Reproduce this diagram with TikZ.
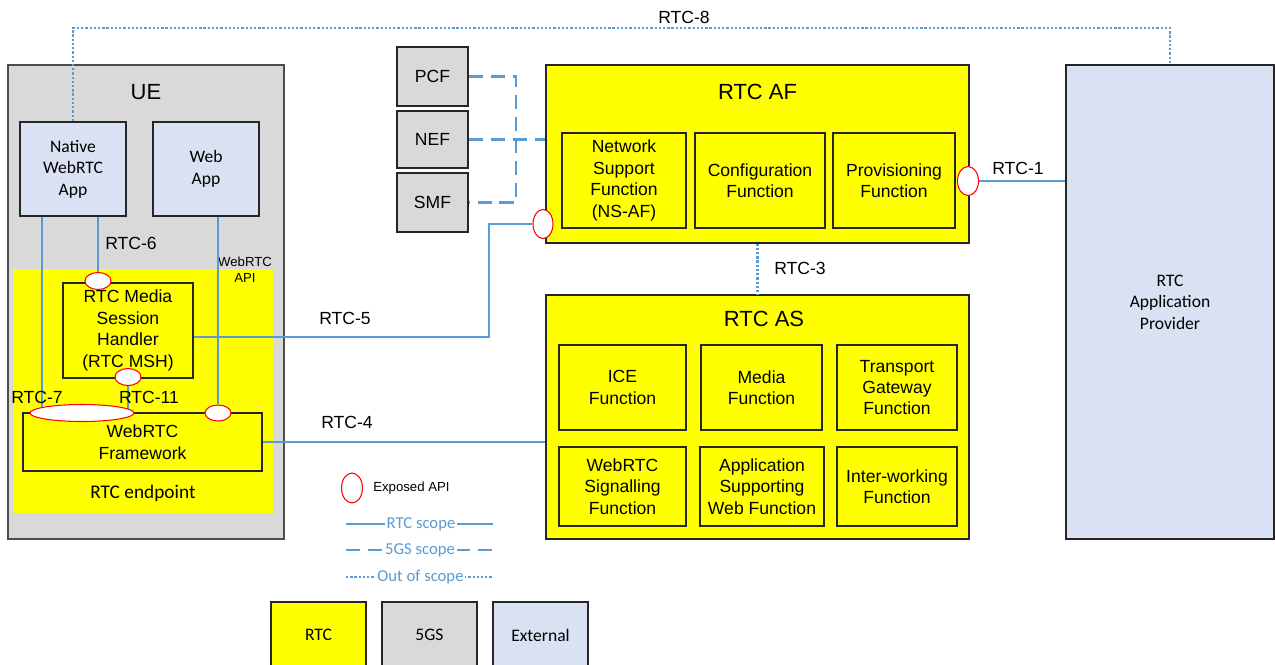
\documentclass[tikz,border=0pt]{standalone}
\usepackage{fontspec}
\setmainfont{Liberation Sans}
\newfontfamily\calibri{Carlito}
\usetikzlibrary{shapes.geometric}
\pgfdeclarelayer{front}
\pgfsetlayers{main,front}
\definecolor{rtcyellow}{RGB}{255,255,0}
\definecolor{fivegray}{RGB}{217,217,217}
\definecolor{extblue}{RGB}{218,225,242}
\definecolor{scopeblue}{RGB}{91,155,213}

\begin{document}
\begin{tikzpicture}[
		x=0.02cm, y=-0.02cm,
		box/.style={rectangle, draw=black!85, line width=0.9pt, inner sep=0pt, align=center},
		rtcbox/.style={box, fill=rtcyellow},
		gsbox/.style={box, fill=fivegray, font=\fontsize{10}{12}\selectfont},
		extbox/.style={box, line width=1.1pt, fill=extblue, font=\calibri\fontsize{10}{12.2}\selectfont},
		func/.style={box, line width=0.7pt, fill=rtcyellow, font=\fontsize{10}{12.2}\selectfont},
		title/.style={font=\fontsize{12.5}{14}\selectfont, inner sep=0pt},
		lbl/.style={font=\fontsize{10}{12}\selectfont, inner sep=0pt},
		legend/.style={font=\calibri\fontsize{9.5}{11}\selectfont, text=scopeblue, fill=white, inner sep=1pt},
		api/.style={ellipse, draw=red, fill=white, line width=0.6pt, inner sep=0pt},
		rtcline/.style={draw=scopeblue, line width=1.2pt},
		gsline/.style={rtcline, dash pattern=on 8pt off 4.5pt},
		outscope/.style={rtcline, dash pattern=on 1.3pt off 1.1pt}
	]
  \useasboundingbox (0,0) rectangle (1275,664);

  \node (ue) [gsbox, draw=black!70, minimum width=5.52cm, minimum height=9.48cm] at (146, 302) {};
  \node (ue_label) [title] at (146, 92) {UE};
  \node (endpoint) [rectangle, fill=rtcyellow, minimum width=5.2cm, minimum height=4.88cm] at (143, 391) {};
  \node (endpoint_label) [font=\calibri\fontsize{11}{13}\selectfont] at (143, 493) {RTC endpoint};
  \node (native) [extbox, minimum width=2.12cm, minimum height=1.88cm] at (73, 169) {Native\\WebRTC\\App};
  \node (webapp) [extbox, minimum width=2.12cm, minimum height=1.88cm] at (206, 169) {Web\\App};
  \node (api_label) [font=\fontsize{7.5}{9}\selectfont, align=center, inner sep=0pt] at (245, 270) {WebRTC\\API};
  \node (msh) [func, minimum width=2.6cm, minimum height=1.9cm] at (128, 330.5) {RTC Media\\Session\\Handler\\(RTC MSH)};
  \node (framework) [func, minimum width=4.78cm, minimum height=1.16cm] at (142.5, 442) {WebRTC\\Framework};

  \node (pcf) [gsbox, minimum width=1.42cm, minimum height=1.18cm] at (432.5, 76.5) {PCF};
  \node (nef) [gsbox, minimum width=1.42cm, minimum height=1.14cm] at (432.5, 139.5) {NEF};
  \node (smf) [gsbox, minimum width=1.42cm, minimum height=1.18cm] at (432.5, 202.5) {SMF};

  \node (rtc_af) [rtcbox, line width=0.7pt, minimum width=8.46cm, minimum height=3.56cm] at (757.5, 154) {};
  \node (rtc_af_label) [title] at (757.5, 92) {RTC AF};
  \node (ns_af) [func, minimum width=2.48cm, minimum height=1.9cm] at (624, 180.5) {Network\\Support\\Function\\(NS-AF)};
  \node (config) [func, minimum width=2.6cm, minimum height=1.9cm] at (760, 180.5) {Configuration\\Function};
  \node (prov) [func, minimum width=2.44cm, minimum height=1.9cm] at (894, 180.5) {Provisioning\\Function};

  \node (rtc_as) [rtcbox, line width=0.7pt, minimum width=8.46cm, minimum height=4.88cm] at (757.5, 417) {};
  \node (rtc_as_label) [title] at (764, 319) {RTC AS};
  \node (ice) [func, minimum width=2.54cm, minimum height=1.7cm] at (622.5, 387.5) {ICE\\Function};
  \node (media) [func, minimum width=2.42cm, minimum height=1.7cm] at (761.5, 387.5) {Media\\Function};
  \node (transport) [func, minimum width=2.4cm, minimum height=1.7cm] at (897, 387.5) {Transport\\Gateway\\Function};
  \node (signalling) [func, minimum width=2.54cm, minimum height=1.58cm] at (622.5, 486.5) {WebRTC\\Signalling\\Function};
  \node (appsupport) [func, minimum width=2.48cm, minimum height=1.58cm] at (762, 486.5) {Application\\Supporting\\Web Function};
  \node (interworking) [func, minimum width=2.4cm, minimum height=1.58cm] at (897, 486.5) {Inter-working\\Function};

  \node (provider) [extbox, minimum width=4.16cm, minimum height=9.48cm] at (1170, 302) {RTC\\Application\\Provider};

  \begin{pgfonlayer}{front}
  \node (msh_api) [api, minimum width=0.52cm, minimum height=0.34cm] at (98, 281) {};
  \node (msh_low_api) [api, minimum width=0.52cm, minimum height=0.34cm] at (128, 377) {};
  \node (rtc7_api) [api, minimum width=2.08cm, minimum height=0.34cm] at (82, 413) {};
  \node (web_api) [api, minimum width=0.52cm, minimum height=0.32cm] at (218, 413) {};
  \node (af_api) [api, minimum width=0.4cm, minimum height=0.58cm] at (543, 224) {};
  \node (prov_api) [api, minimum width=0.42cm, minimum height=0.58cm] at (968, 181) {};
  \node (legend_api) [api, minimum width=0.42cm, minimum height=0.6cm] at (352, 488) {};
  \end{pgfonlayer}
  \node (legend_api_label) [font=\fontsize{7.5}{9}\selectfont, anchor=west, inner sep=0pt] at (373, 488) {Exposed API};

  \coordinate (rtc7_x) at (42, 300);
  \coordinate (rtc5_turn) at (489, 337);
  \coordinate (rtc8_turn) at (684, 28);
  \coordinate (bus5g) at (516, 140);

  \draw[rtcline] (native.south -| rtc7_x) -- (rtc7_x |- rtc7_api);
  \draw[rtcline] (native.south -| msh_api) -- (msh_api);
  \draw[rtcline] (webapp.south -| web_api) -- (web_api);
  \draw[rtcline] (msh_low_api) -- (msh_low_api |- rtc7_api);
  \draw[rtcline] (msh.east |- rtc5_turn) -- (rtc5_turn) |- (af_api);
  \draw[rtcline] (framework.east) -- (framework.east -| rtc_as.west);
  \draw[rtcline] (prov_api) -- (prov_api -| provider.west);
  \draw[outscope] (rtc_af.south) -- (rtc_as.north);
  \draw[outscope] (native.north) |- (rtc8_turn) -| (provider.north);
  \draw[gsline] (pcf.east) -| (bus5g) |- (smf.east);
  \draw[gsline] (nef.east) -- (nef.east -| rtc_af.west);

  \node (rtc1_label) [lbl] at (1018, 168) {RTC-1};
  \node (rtc3_label) [lbl] at (800, 268) {RTC-3};
  \node (rtc4_label) [lbl] at (347, 422) {RTC-4};
  \node (rtc5_label) [lbl] at (345, 318) {RTC-5};
  \node (rtc6_label) [lbl] at (131, 243) {RTC-6};
  \node (rtc7_label) [lbl] at (37, 397) {RTC-7};
  \node (rtc8_label) [lbl] at (684, 17) {RTC-8};
  \node (rtc11_label) [lbl] at (149, 397) {RTC-11};

  \coordinate (key_a_l) at (346, 524);
  \coordinate (key_a_r) at (493, 524);
  \coordinate (key_b_l) at (346, 550);
  \coordinate (key_b_r) at (493, 550);
  \coordinate (key_c_l) at (346, 577);
  \coordinate (key_c_r) at (493, 577);
  \draw[rtcline] (key_a_l) -- (key_a_r);
  \draw[gsline] (key_b_l) -- (key_b_r);
  \draw[outscope] (key_c_l) -- (key_c_r);
  \node (key_a) [legend] at (421, 524) {RTC scope};
  \node (key_b) [legend] at (420, 550) {5GS scope};
  \node (key_c) [legend] at (420.5, 577) {Out of scope};

  \node (key_rtc) [rtcbox, minimum width=1.9cm, minimum height=1.32cm, font=\calibri\fontsize{10}{12}\selectfont] at (318.5, 635) {RTC};
  \node (key_5gs) [gsbox, minimum width=1.9cm, minimum height=1.32cm, font=\calibri\fontsize{10}{12}\selectfont] at (429.5, 635) {5GS};
  \node (key_ext) [extbox, line width=0.9pt, minimum width=1.9cm, minimum height=1.32cm] at (540.5, 635) {External};
\end{tikzpicture}
\end{document}
